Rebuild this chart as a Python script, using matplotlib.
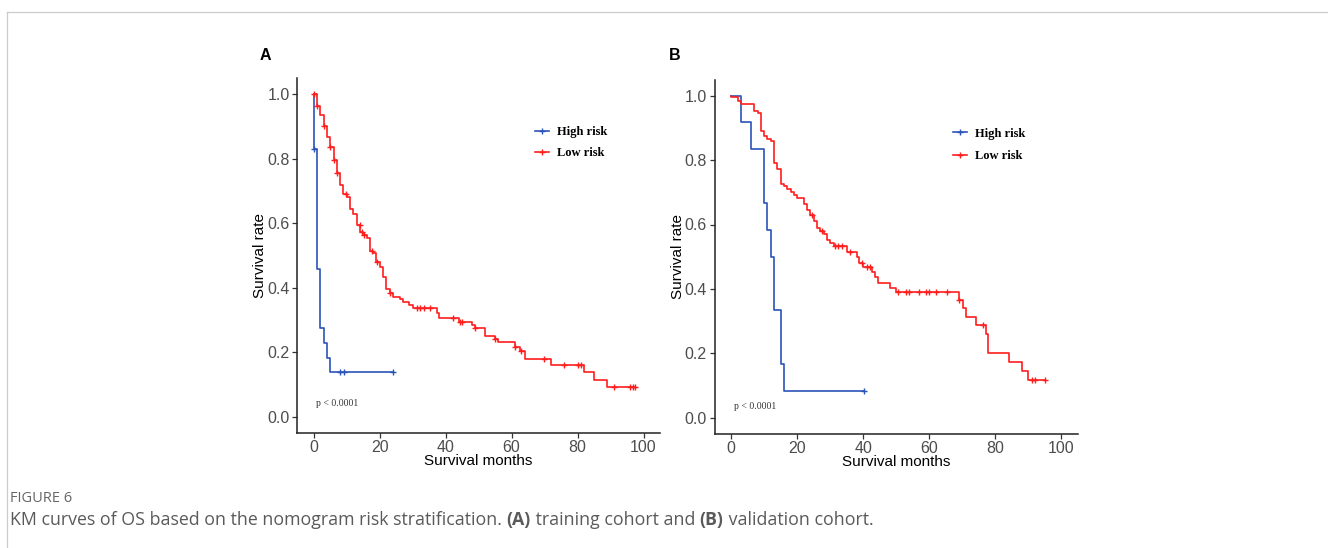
import numpy as np
import matplotlib
matplotlib.use("Agg")
import matplotlib.pyplot as plt
from matplotlib.lines import Line2D

# ---- data ----
# panel A (training cohort)
a_high_time = [0, 0, 1, 2, 3, 4, 5]
a_high_surv = [1.0, 0.830, 0.458, 0.275, 0.229, 0.183, 0.137]
a_high_end = 24.1
a_high_cens = [0, 8, 9.2, 24.1]

a_low_time = [0, 1, 2, 3, 4, 5, 6, 7, 8, 9, 10, 11, 12, 13, 14, 15, 16, 17, 18, 19,
              20, 21, 22, 23, 24, 26, 27, 29, 30, 37.3, 38, 44, 48, 49, 52, 55, 56,
              61, 62.4, 64, 72, 82, 85, 89]
a_low_surv = [1.0, 0.963, 0.935, 0.903, 0.868, 0.836, 0.797, 0.756, 0.720, 0.692,
              0.680, 0.645, 0.629, 0.594, 0.574, 0.564, 0.553, 0.514, 0.507, 0.481,
              0.465, 0.434, 0.395, 0.383, 0.372, 0.364, 0.357, 0.346, 0.336, 0.322,
              0.305, 0.295, 0.284, 0.274, 0.251, 0.241, 0.230, 0.217, 0.205, 0.178,
              0.160, 0.138, 0.115, 0.093]
a_low_end = 97.3
a_low_cens = [0, 1, 3, 5, 6, 7, 9.8, 13.9, 14.5, 15.3, 17.6, 19.2, 23, 31.3, 32.3,
              33.3, 35.1, 42.1, 44.2, 45.1, 49, 55, 61, 62.9, 69.8, 75.9, 80, 81, 91,
              96, 96.8, 97.3]

# panel B (validation cohort)
b_high_time = [0, 3, 6, 10, 11, 12, 13, 15, 16]
b_high_surv = [1.0, 0.917, 0.833, 0.667, 0.583, 0.500, 0.333, 0.167, 0.083]
b_high_end = 40.2
b_high_cens = [40.2]

b_low_time = [0, 0, 2, 3, 7, 8, 9, 10, 11, 12, 13, 14, 15, 16, 17, 18, 19, 20, 22,
              23, 24, 25, 26, 27, 28, 29, 30, 31, 35, 38, 38.8, 40, 42.6, 43.6, 44.5,
              48, 50, 69.1, 70.1, 71.1, 74.1, 77.1, 77.9, 84, 88, 90]
b_low_surv = [1.0, 0.995, 0.985, 0.974, 0.953, 0.945, 0.891, 0.874, 0.866, 0.858,
              0.791, 0.773, 0.726, 0.719, 0.711, 0.700, 0.693, 0.682, 0.664, 0.646,
              0.628, 0.610, 0.590, 0.580, 0.570, 0.552, 0.541, 0.534, 0.515, 0.498,
              0.480, 0.467, 0.454, 0.438, 0.417, 0.402, 0.390, 0.366, 0.340, 0.314,
              0.288, 0.259, 0.202, 0.174, 0.146, 0.116]
b_low_end = 95
b_low_cens = [24.4, 27.4, 31.4, 32.4, 33.5, 36, 39.5, 41, 42, 50.6, 52.9, 53.9, 57,
              59, 60, 62, 65.2, 69.1, 76.1, 91, 92, 95]

groups = ["High risk", "Low risk"]
x_ticks = [0, 20, 40, 60, 80, 100]
y_ticks = [0.0, 0.2, 0.4, 0.6, 0.8, 1.0]

BLUE = "#2B54B8"
RED = "#FF1E1E"
GREY_TXT = "#4D4D4D"
SERIF = ["Liberation Serif", "DejaVu Serif"]
SANS = ["Liberation Sans", "DejaVu Sans"]


def surv_at(times, surv, t):
    idx = np.searchsorted(np.array(times), t, side="right") - 1
    return surv[max(idx, 0)]


def km(ax, times, surv, end, cens, color):
    xs = list(times) + [end]
    ys = list(surv) + [surv[-1]]
    ax.step(xs, ys, where="post", color=color, lw=1.2, zorder=3)
    cy = [surv_at(times, surv, c) for c in cens]
    ax.plot(cens, cy, ls="none", marker="+", ms=5, mew=1.0, color=color, zorder=4)


fig = plt.figure(figsize=(13.28, 5.48), dpi=100)
W, H = 1328.0, 548.0


def px_axes(left, right, top, bottom):
    return fig.add_axes([left / W, 1 - bottom / H, (right - left) / W, (bottom - top) / H])


panels = [
    dict(box=(297.3, 660, 78.2, 432.7), letter="A", lx=265,
         high=(a_high_time, a_high_surv, a_high_end, a_high_cens),
         low=(a_low_time, a_low_surv, a_low_end, a_low_cens),
         leg=(0.655, 0.818), lspace=0.68, pval=(0.8, 0.042),
         ylab_x=260, xlab_y=461),
    dict(box=(714.6, 1078, 79.6, 433.8), letter="B", lx=675,
         high=(b_high_time, b_high_surv, b_high_end, b_high_cens),
         low=(b_low_time, b_low_surv, b_low_end, b_low_cens),
         leg=(0.656, 0.816), lspace=0.84, pval=(0.9, 0.036),
         ylab_x=678, xlab_y=462),
]

for p in panels:
    l, r, t, b = p["box"]
    ax = px_axes(l, r, t, b)
    km(ax, *p["high"], BLUE)
    km(ax, *p["low"], RED)
    ax.set_xlim(-5, 105)
    ax.set_ylim(-0.05, 1.05)
    ax.set_xticks(x_ticks)
    ax.set_yticks(y_ticks)
    ax.set_yticklabels([f"{v:.1f}" for v in y_ticks])
    for s in ["top", "right"]:
        ax.spines[s].set_visible(False)
    for s in ["left", "bottom"]:
        ax.spines[s].set_linewidth(1.1)
        ax.spines[s].set_color("#222222")
    ax.tick_params(length=3.5, width=0.9, color="#333333", labelsize=11.5,
                   labelcolor=GREY_TXT, pad=2)
    for lab in ax.get_xticklabels() + ax.get_yticklabels():
        lab.set_family(SANS)

    fig.text((l + r) / 2 / W, 1 - p["xlab_y"] / H, "Survival months",
             ha="center", va="center", fontsize=11, family=SANS)
    fig.text(p["ylab_x"] / W, 1 - ((t + b) / 2) / H, "Survival rate", rotation=90,
             ha="center", va="center", fontsize=11, family=SANS)
    fig.text(p["lx"] / W, 1 - 55 / H, p["letter"], ha="center", va="center",
             fontsize=11.5, fontweight="bold", family=SANS)

    handles = [Line2D([], [], color=BLUE, lw=1.2, marker="+", ms=4, mew=1.0),
               Line2D([], [], color=RED, lw=1.2, marker="+", ms=4, mew=1.0)]
    ax.legend(handles, groups, loc="center left", bbox_to_anchor=p["leg"],
              frameon=False, borderpad=0, borderaxespad=0, handlelength=1.15,
              handletextpad=0.65, labelspacing=p["lspace"],
              prop=dict(family=SERIF, weight="bold", size=9))
    ax.text(p["pval"][0], p["pval"][1], "p < 0.0001", ha="left", va="center",
            fontsize=7, family=SERIF, color="#333333")

# page frame lines
fig.add_artist(Line2D([7 / W, 7 / W], [0, 1 - 12 / H], color="#cccccc", lw=0.9))
fig.add_artist(Line2D([7 / W, 1], [1 - 12 / H, 1 - 12 / H], color="#cccccc", lw=0.9))

# caption
CAP_FONT = ["Open Sans", "DejaVu Sans"]
fig.text(10 / W, 1 - 498 / H, "FIGURE 6", ha="left", va="center", fontsize=10.5,
         family=CAP_FONT, color="#666666")

pieces = [("KM curves of OS based on the nomogram risk stratification. ", "normal"),
          ("(A)", "bold"), (" training cohort and ", "normal"), ("(B)", "bold"),
          (" validation cohort.", "normal")]
fig.canvas.draw()
renderer = fig.canvas.get_renderer()
x_cur = 10.0
for txt, wt in pieces:
    tobj = fig.text(x_cur / W, 1 - 520 / H, txt, ha="left", va="center", fontsize=12.8,
                    family=CAP_FONT, color="#5a5a5a", weight=wt)
    bb = tobj.get_window_extent(renderer=renderer)
    x_cur += bb.width

fig.savefig("out.png", dpi=100)
